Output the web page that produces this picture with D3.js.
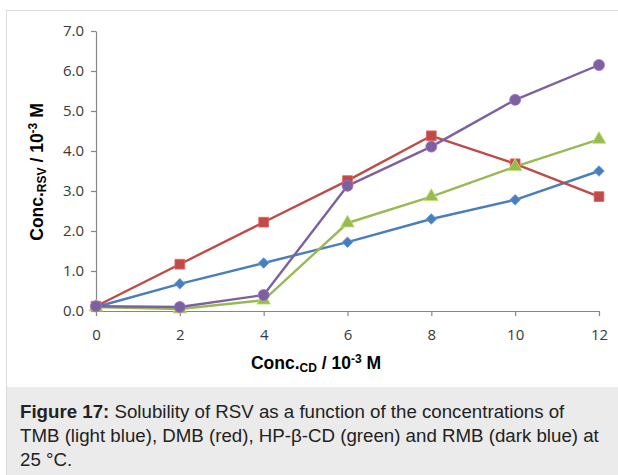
<!DOCTYPE html>
<html><head><meta charset="utf-8">
<script src="https://cdn.jsdelivr.net/npm/d3@7"></script>
<style>
html,body{margin:0;padding:0;background:#fff;}
svg{display:block;}
</style></head>
<body>
<svg id="c" width="618" height="475"></svg>
<script>
const xValues = [0, 2, 4, 6, 8, 10, 12];
const tmb = [0.10, 0.68, 1.20, 1.72, 2.30, 2.78, 3.50];
const dmb = [0.12, 1.17, 2.22, 3.26, 4.38, 3.68, 2.86];
const hpbcd = [0.10, 0.05, 0.27, 2.20, 2.86, 3.61, 4.29];
const rmb = [0.12, 0.10, 0.40, 3.13, 4.11, 5.28, 6.15];
const yTicks = [0, 1, 2, 3, 4, 5, 6, 7];
const xTicks = [0, 2, 4, 6, 8, 10, 12];
const seriesNames = ["TMB", "DMB", "HP-β-CD", "RMB"];
const seriesColors = ["#4A7EBB", "#BE4B48", "#98B954", "#7D60A0"];
const seriesMarkers = ["diamond", "square", "triangle", "circle"];
const seriesData = [tmb, dmb, hpbcd, rmb];

const svg = d3.select("#c");
// frame
svg.append("rect").attr("x", 6.5).attr("y", 10.5).attr("width", 620).attr("height", 470)
  .attr("fill", "#fff").attr("stroke", "#dcdcdc");
svg.append("rect").attr("x", 7).attr("y", 387).attr("width", 611).attr("height", 88).attr("fill", "#ebebeb");

const x = d3.scaleLinear().domain([0, 12]).range([96, 599]);
const y = d3.scaleLinear().domain([0, 7]).range([311, 31]);

const axisColor = "#868686";
const gx = svg.append("g").attr("transform", "translate(0,311)")
  .call(d3.axisBottom(x).tickValues(xTicks).tickFormat(d3.format("d")).tickSize(5).tickSizeOuter(0));
const gy = svg.append("g").attr("transform", "translate(96,0)")
  .call(d3.axisLeft(y).tickValues(yTicks).tickFormat(d3.format(".1f")).tickSize(5).tickSizeOuter(0));
[gx, gy].forEach(g => {
  g.select(".domain").attr("stroke", axisColor).attr("stroke-width", 1.2);
  g.selectAll(".tick line").attr("stroke", axisColor).attr("stroke-width", 1.2);
  g.selectAll(".tick text").attr("fill", "#3a3a3a").attr("font-family", "'Open Sans', Lato, sans-serif").attr("font-size", "15px");
});
gx.selectAll(".tick text").attr("y", 18).attr("dy", "0.71em");
gy.selectAll(".tick text").attr("x", -12);

const line = d3.line().x((d, i) => x(xValues[i])).y(d => y(d));
const sym = {
  diamond: d3.symbolSquare, square: d3.symbolSquare, triangle: d3.symbolTriangle, circle: d3.symbolCircle
};
const sizes = {diamond: 56, square: 95, triangle: 80, circle: 95};
const rot = {diamond: 45, square: 0, triangle: 0, circle: 0};
seriesData.forEach((s, k) => {
  svg.append("path").datum(s).attr("d", line).attr("fill", "none")
    .attr("stroke", seriesColors[k]).attr("stroke-width", 2.4).attr("stroke-linejoin", "round");
});
seriesData.forEach((s, k) => {
  const m = seriesMarkers[k];
  svg.append("g").selectAll("path").data(s).join("path")
    .attr("transform", (d, i) => `translate(${x(xValues[i])},${y(d)}) rotate(${rot[m]})`)
    .attr("d", d3.symbol().type(sym[m]).size(sizes[m]))
    .attr("fill", seriesColors[k]).attr("stroke", d3.color(seriesColors[k]).brighter(0.6)).attr("stroke-width", 0.8);
});

// axis titles
const titleFont = "'Liberation Sans', Arial, sans-serif";
const xt = svg.append("text").attr("x", 316).attr("y", 369).attr("text-anchor", "middle")
  .attr("font-family", titleFont).attr("font-weight", "bold").attr("font-size", "17.5px").attr("fill", "#000");
xt.append("tspan").text("Conc.");
xt.append("tspan").attr("font-size", "12px").attr("dy", 3).text("CD");
xt.append("tspan").attr("dy", -3).text(" / 10");
xt.append("tspan").attr("font-size", "12px").attr("dy", -6).text("-3");
xt.append("tspan").attr("dy", 6).text(" M");

const yt = svg.append("text").attr("transform", "translate(43,172) rotate(-90)").attr("text-anchor", "middle")
  .attr("font-family", titleFont).attr("font-weight", "bold").attr("font-size", "17.5px").attr("fill", "#000");
yt.append("tspan").text("Conc.");
yt.append("tspan").attr("font-size", "12px").attr("dy", 3).text("RSV");
yt.append("tspan").attr("dy", -3).text(" / 10");
yt.append("tspan").attr("font-size", "12px").attr("dy", -6).text("-3");
yt.append("tspan").attr("dy", 6).text(" M");

// caption
const capLines = [
  [["Figure 17:", true], [" Solubility of RSV as a function of the concentrations of", false]],
  [["TMB (light blue), DMB (red), HP-β-CD (green) and RMB (dark blue) at", false]],
  [["25 °C.", false]]
];
capLines.forEach((ln, i) => {
  const t = svg.append("text").attr("x", 20).attr("y", 418 + i * 24)
    .attr("font-family", "'Liberation Sans', Arial, sans-serif").attr("font-size", "18.7px").attr("fill", "#222");
  ln.forEach(([s, b]) => t.append("tspan").attr("font-weight", b ? "bold" : "normal").text(s));
});
</script>
</body></html>
